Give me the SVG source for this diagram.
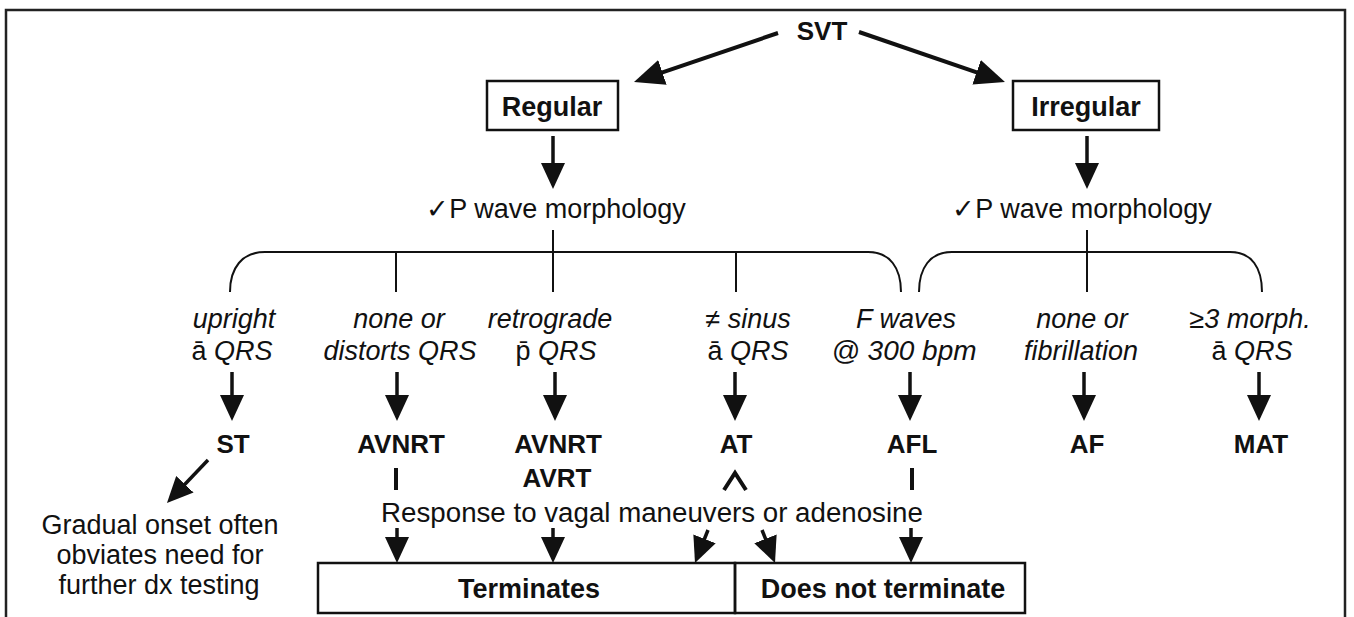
<svg xmlns="http://www.w3.org/2000/svg" width="1354" height="617" viewBox="0 0 1354 617">
<defs>
<style>
text{font-family:"Liberation Sans",Arial,sans-serif;fill:#111;text-anchor:middle}
.b{font-weight:bold;font-size:26px}
.bx{font-weight:bold;font-size:27px}
.r{font-size:27px}
.rr{font-size:27.7px}
.i{font-size:27px;font-style:italic}
.n{font-style:normal}
.box{fill:none;stroke:#111;stroke-width:2.5}
.ln{fill:none;stroke:#111;stroke-width:2}
.ar{fill:none;stroke:#111;stroke-width:3.5;marker-end:url(#ah)}
.arL{fill:none;stroke:#111;stroke-width:4;marker-end:url(#ahL)}
.bar{fill:none;stroke:#111;stroke-width:4}
</style>
<marker id="ah" markerUnits="userSpaceOnUse" markerWidth="26" markerHeight="24" viewBox="0 0 26 24" refX="20" refY="12" orient="auto">
<path d="M0,0 L26,12 L0,24 z" fill="#111"/>
</marker>
<marker id="ahL" markerUnits="userSpaceOnUse" markerWidth="30" markerHeight="26" viewBox="0 0 30 26" refX="24" refY="13" orient="auto">
<path d="M0,0 L30,13 L0,26 z" fill="#111"/>
</marker>
</defs>
<rect x="0" y="0" width="1354" height="617" fill="#fff"/>
<path d="M6,617 V10 H1345 V617" fill="none" stroke="#222" stroke-width="2.5"/>

<g id="svt"><text class="b" x="822" y="40">SVT</text></g>
<g id="regular"><rect class="box" x="487" y="81" width="131" height="49"/><text class="bx" x="552" y="116">Regular</text></g>
<g id="irregular"><rect class="box" x="1013" y="81" width="146" height="49"/><text class="bx" x="1086" y="116">Irregular</text></g>
<g id="pwave-left"><text class="r" x="556" y="218">✓P wave morphology</text></g>
<g id="pwave-right"><text class="r" x="1082" y="218">✓P wave morphology</text></g>

<g id="crit-upright"><text class="i" x="234" y="328">upright</text><text class="i" x="232" y="360"><tspan class="n">ā</tspan> QRS</text></g>
<g id="crit-none-distorts"><text class="i" x="399" y="328">none or</text><text class="i" x="400" y="360">distorts QRS</text></g>
<g id="crit-retrograde"><text class="i" x="550" y="328">retrograde</text><text class="i" x="556" y="360"><tspan class="n">p̄</tspan> QRS</text></g>
<g id="crit-notsinus"><text class="i" x="748" y="328">≠ sinus</text><text class="i" x="748" y="360"><tspan class="n">ā</tspan> QRS</text></g>
<g id="crit-fwaves"><text class="i" x="906" y="328">F waves</text><text class="i" x="904" y="360" style="font-size:28px">@ 300 bpm</text></g>
<g id="crit-fibrillation"><text class="i" x="1082" y="328">none or</text><text class="i" x="1081" y="360">fibrillation</text></g>
<g id="crit-morph"><text class="i" x="1250" y="328">≥3 morph.</text><text class="i" x="1252" y="360"><tspan class="n">ā</tspan> QRS</text></g>

<g id="dx-st"><text class="b" x="233" y="453">ST</text></g>
<g id="dx-avnrt1"><text class="b" x="401" y="453">AVNRT</text></g>
<g id="dx-avnrt-avrt"><text class="b" x="558" y="453">AVNRT</text><text class="b" x="557" y="487">AVRT</text></g>
<g id="dx-at"><text class="b" x="736" y="453">AT</text></g>
<g id="dx-afl"><text class="b" x="912" y="453">AFL</text></g>
<g id="dx-af"><text class="b" x="1087" y="453">AF</text></g>
<g id="dx-mat"><text class="b" x="1261" y="453">MAT</text></g>

<g id="st-note"><text class="r" x="160" y="534">Gradual onset often</text><text class="r" x="160" y="564">obviates need for</text><text class="r" x="159" y="594">further dx testing</text></g>
<g id="response"><text class="rr" x="652" y="522">Response to vagal maneuvers or adenosine</text></g>
<g id="terminates"><rect class="box" x="318" y="563" width="417" height="50"/><text class="bx" x="529" y="598">Terminates</text></g>
<g id="not-terminate"><rect class="box" x="735" y="563" width="290" height="50"/><text class="bx" x="883" y="598">Does not terminate</text></g>

<g id="connectors">
<line class="arL" x1="778" y1="33" x2="639.7" y2="80.1"/>
<line class="arL" x1="859" y1="32" x2="999.3" y2="80.1"/>
<line class="ar" x1="553" y1="136" x2="553" y2="183"/>
<line class="ar" x1="1087" y1="136" x2="1087" y2="183"/>
<line class="ln" x1="553" y1="230" x2="553" y2="292"/>
<line class="ln" x1="1087" y1="230" x2="1087" y2="292"/>
<path class="ln" d="M230,292 C230,268 242,252 265,252 H868 C890,252 901,268 901,292"/>
<path class="ln" d="M919,292 C919,268 930,252 952,252 H1230 C1252,252 1262,268 1262,292"/>
<line class="ln" x1="396" y1="252" x2="396" y2="292"/>
<line class="ln" x1="736" y1="252" x2="736" y2="292"/>
<line class="ar" x1="232" y1="372" x2="232" y2="415"/>
<line class="ar" x1="397" y1="372" x2="397" y2="415"/>
<line class="ar" x1="555" y1="372" x2="555" y2="415"/>
<line class="ar" x1="735" y1="372" x2="735" y2="415"/>
<line class="ar" x1="910" y1="372" x2="910" y2="415"/>
<line class="ar" x1="1084" y1="372" x2="1084" y2="415"/>
<line class="ar" x1="1259" y1="372" x2="1259" y2="415"/>
<line class="ar" x1="208" y1="460" x2="171.1" y2="498.7"/>
<line class="bar" x1="396" y1="468" x2="396" y2="490"/>
<line class="bar" x1="912" y1="468" x2="912" y2="490"/>
<polyline class="bar" points="724,490 735,473 746,490" stroke-width="3.5"/>
<line class="ar" x1="397" y1="528" x2="397" y2="557"/>
<line class="ar" x1="553" y1="528" x2="553" y2="557"/>
<line class="ar" x1="708" y1="530" x2="697.2" y2="557.4"/>
<line class="ar" x1="762" y1="530" x2="772.8" y2="557.4"/>
<line class="ar" x1="911" y1="528" x2="911" y2="557"/>
</g>
</svg>
